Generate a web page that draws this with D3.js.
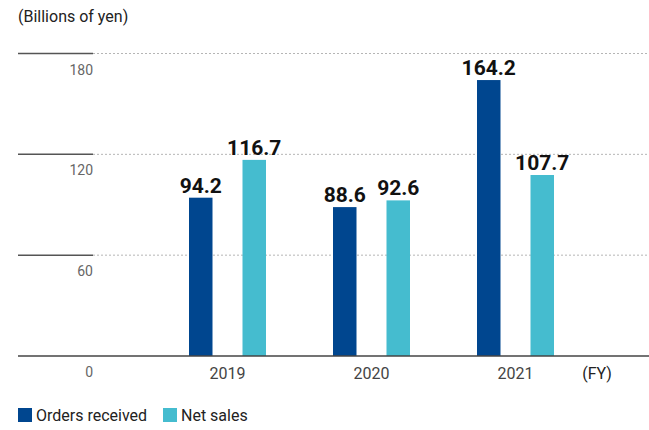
<!DOCTYPE html>
<html>
<head>
<meta charset="utf-8">
<script src="https://cdn.jsdelivr.net/npm/d3@7"></script>
<style>
  html, body { margin: 0; padding: 0; background: #fff; }
  svg { display: block; font-family: Roboto, "Noto Sans", sans-serif; }
</style>
</head>
<body>
<svg id="chart" width="649" height="430"></svg>
<script>
const years = ["2019", "2020", "2021"];
const ordersReceived = [94.2, 88.6, 164.2];
const netSales = [116.7, 92.6, 107.7];
const seriesNames = ["Orders received", "Net sales"];
const seriesColors = ["#00468f", "#45bccf"];
const yTicks = [0, 60, 120, 180];
const unitLabel = "(Billions of yen)";
const fyLabel = "(FY)";

const svg = d3.select("#chart");
const W = 649;
const baseY = 356, topY = 53.5;

const y = d3.scaleLinear().domain([0, 180]).range([baseY, topY]);
const x = d3.scaleBand().domain(years).range([155.5, 587.5]).paddingInner(0).paddingOuter(0);

// unit label
svg.append("text").attr("x", 18).attr("y", 22)
  .attr("font-size", 16).attr("fill", "#222").text(unitLabel);

// gridlines
const grid = svg.append("g");
yTicks.filter(t => t > 0).forEach(t => {
  grid.append("line").attr("x1", 93).attr("x2", W).attr("y1", y(t)).attr("y2", y(t))
    .attr("stroke", "#b5b5b5").attr("stroke-width", 1).attr("stroke-dasharray", "2,2");
  grid.append("line").attr("x1", 18).attr("x2", 93).attr("y1", y(t)).attr("y2", y(t))
    .attr("stroke", "#555").attr("stroke-width", 1.5);
});

// tick labels
svg.append("g").selectAll("text").data(yTicks).join("text")
  .attr("x", 93).attr("y", d => y(d) + 21)
  .attr("text-anchor", "end").attr("font-size", 14).attr("fill", "#666")
  .text(d => d);

// bars
const series = [ordersReceived, netSales];
const bw = 23.5;
const offsets = [-38.5, 15];
series.forEach((vals, si) => {
  const g = svg.append("g");
  g.selectAll("rect").data(vals).join("rect")
    .attr("x", (d, i) => x(years[i]) + x.bandwidth() / 2 + offsets[si])
    .attr("y", d => y(d))
    .attr("width", bw)
    .attr("height", d => baseY - y(d))
    .attr("fill", seriesColors[si]);
  g.selectAll("text").data(vals).join("text")
    .attr("x", (d, i) => x(years[i]) + x.bandwidth() / 2 + offsets[si] + bw / 2)
    .attr("y", d => y(d) - 5)
    .attr("text-anchor", "middle").attr("font-size", 21).attr("font-weight", "bold")
    .attr("fill", "#111")
    .text(d => d.toFixed(1));
});

// baseline
svg.append("line").attr("x1", 18).attr("x2", W).attr("y1", baseY).attr("y2", baseY)
  .attr("stroke", "#444").attr("stroke-width", 1.5);

// year labels
svg.append("g").selectAll("text").data(years).join("text")
  .attr("x", d => x(d) + x.bandwidth() / 2)
  .attr("y", 379)
  .attr("text-anchor", "middle").attr("font-size", 16).attr("fill", "#444")
  .text(d => d);

svg.append("text").attr("x", 597).attr("y", 379).attr("text-anchor", "middle")
  .attr("font-size", 16).attr("fill", "#222").text(fyLabel);

// legend
const legX = [18, 163];
seriesNames.forEach((n, i) => {
  svg.append("rect").attr("x", legX[i]).attr("y", 408).attr("width", 14).attr("height", 14)
    .attr("fill", seriesColors[i]);
  svg.append("text").attr("x", legX[i] + 18).attr("y", 421)
    .attr("font-size", 16).attr("fill", "#222").text(n);
});
</script>
</body>
</html>
